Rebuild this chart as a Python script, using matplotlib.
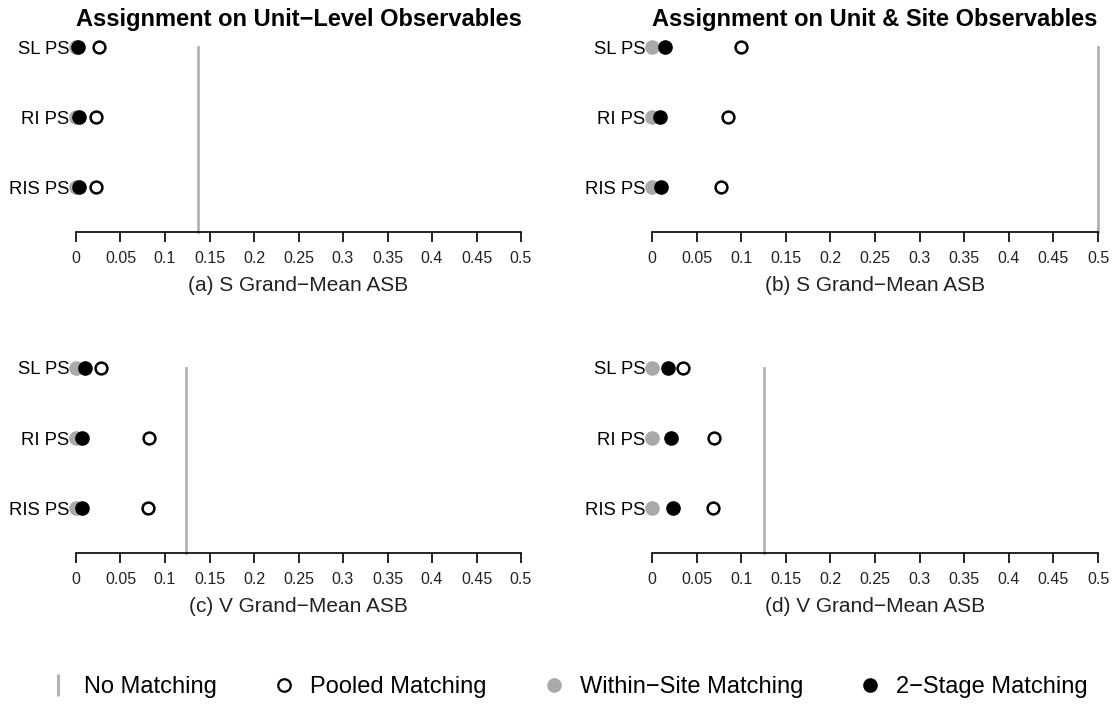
import matplotlib.pyplot as plt
from matplotlib.lines import Line2D

plt.rcParams['font.family'] = ['Liberation Sans', 'DejaVu Sans']

# rows, top to bottom
methods = ["SL PS", "RI PS", "RIS PS"]
row_y = [3, 2, 1]

titles = ["Assignment on Unit\u2212Level Observables",
          "Assignment on Unit & Site Observables"]
xlabels = ["(a) S Grand\u2212Mean ASB", "(b) S Grand\u2212Mean ASB",
           "(c) V Grand\u2212Mean ASB", "(d) V Grand\u2212Mean ASB"]

# ASB per panel (a, b, c, d)
no_matching = [0.137, 0.5, 0.124, 0.126]
pooled = [[0.026, 0.022, 0.022],
          [0.100, 0.085, 0.077],
          [0.028, 0.082, 0.081],
          [0.035, 0.070, 0.068]]
within_site = [[0.000, 0.000, 0.000],
               [0.000, 0.000, 0.000],
               [0.000, 0.000, 0.000],
               [0.000, 0.000, 0.000]]
two_stage = [[0.002, 0.003, 0.003],
             [0.015, 0.009, 0.010],
             [0.010, 0.007, 0.007],
             [0.018, 0.021, 0.023]]

xticks = [0, 0.05, 0.1, 0.15, 0.2, 0.25, 0.3, 0.35, 0.4, 0.45, 0.5]
xticklabels = ["0", "0.05", "0.1", "0.15", "0.2", "0.25", "0.3", "0.35", "0.4", "0.45", "0.5"]

GRAY = "#a9a9a9"
LINE_GRAY = "#b3b3b3"

W, H = 1117, 704
fig = plt.figure(figsize=(W / 100, H / 100), dpi=100)

# axes boxes in pixels: left, top, right, bottom
boxes = [(76, 47, 521, 232), (652, 47, 1098, 232),
         (76, 368, 521, 553), (652, 368, 1098, 553)]

for i, (l, t, r, b) in enumerate(boxes):
    ax = fig.add_axes([l / W, 1 - b / H, (r - l) / W, (b - t) / H])
    ax.set_xlim(0, 0.5)
    ax.set_ylim(0.36, 3)
    ax.axvline(no_matching[i], color=LINE_GRAY, lw=2, clip_on=False, zorder=1)
    ax.plot(within_site[i], row_y, 'o', color=GRAY, ms=9.5, clip_on=False, zorder=3)
    ax.plot(two_stage[i], row_y, 'o', color='black', ms=9.5, clip_on=False, zorder=4)
    ax.plot(pooled[i], row_y, 'o', mfc='none', mec='black', mew=1.8, ms=8.5,
            clip_on=False, zorder=5)

    for s in ['top', 'right', 'left']:
        ax.spines[s].set_visible(False)
    ax.spines['bottom'].set_linewidth(1.2)
    ax.set_xticks(xticks)
    ax.set_xticklabels(xticklabels, fontsize=11.5, color='#222222')
    ax.tick_params(axis='x', direction='out', length=7, width=1.2, pad=7)
    ax.set_yticks(row_y)
    ax.set_yticklabels(methods, fontsize=13.3)
    ax.tick_params(axis='y', length=0, pad=5)
    ax.set_xlabel(xlabels[i], fontsize=15, color='#222222', labelpad=7)
    if i < 2:
        ax.set_title(titles[i], fontsize=17, fontweight='bold', pad=15)

handles = [
    Line2D([], [], ls='none', marker='|', color=LINE_GRAY, ms=16, mew=2.2),
    Line2D([], [], ls='none', marker='o', mfc='none', mec='black', mew=1.6, ms=9),
    Line2D([], [], ls='none', marker='o', color=GRAY, ms=9.5),
    Line2D([], [], ls='none', marker='o', color='black', ms=9.5),
]
labels = ["No Matching", "Pooled Matching", "Within\u2212Site Matching", "2\u2212Stage Matching"]
fig.legend(handles, labels, loc='center', bbox_to_anchor=(0.507, 1 - 687 / H),
           ncol=4, frameon=False, fontsize=17, handlelength=1.1,
           handletextpad=0.55, columnspacing=2.3)

fig.savefig("out.png", dpi=100)
